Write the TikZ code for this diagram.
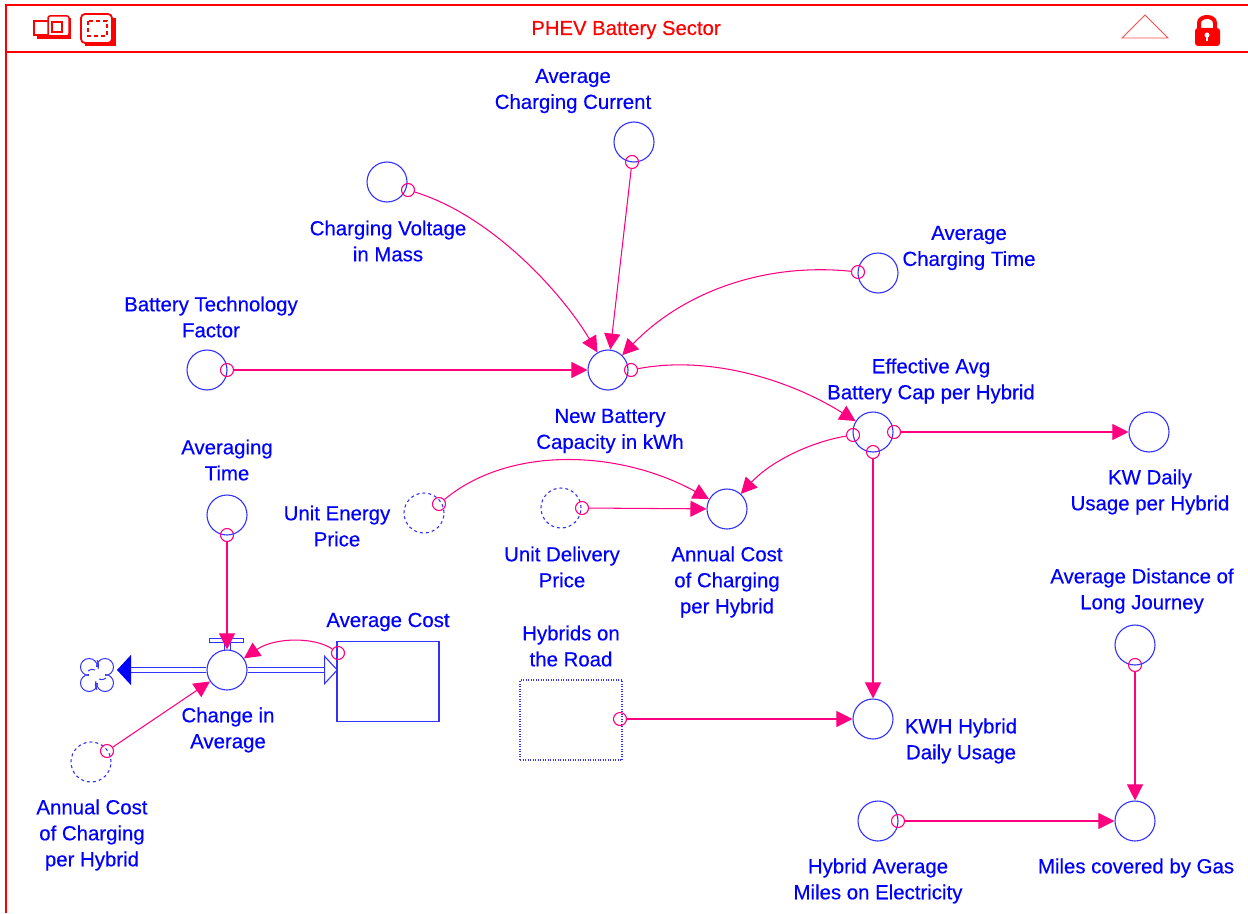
\documentclass[tikz,border=0pt]{standalone}
\usepackage{fontspec}
\setmainfont{Liberation Sans}[BoldFont=Liberation Sans,BoldFeatures={FakeBold=0.4}]
\usetikzlibrary{arrows.meta}
\newdimen\px \px=.75pt
\definecolor{vblue}{RGB}{50,50,255}
\definecolor{vtext}{RGB}{0,0,255}
\definecolor{vpink}{RGB}{255,0,128}
\definecolor{vred}{RGB}{255,0,0}
\tikzset{
  x=.75pt,y=-.75pt,
  aux/.style={circle,draw=vblue,line width=1.1\px,minimum size=40\px,inner sep=0pt},
  ghost/.style={aux,dash pattern=on 3\px off 3\px},
  stock/.style={rectangle,draw=vblue,line width=1.1\px,minimum width=102\px,minimum height=80\px,inner sep=0pt},
  gstock/.style={stock,dash pattern=on 1\px off 1.5\px},
  tap/.style={circle,draw=vpink,line width=1.1\px,minimum size=13\px,inner sep=0pt},
  lab/.style={text=vtext,align=center,inner sep=0pt,font=\fontsize{15.3pt}{19.5pt}\selectfont\bfseries},
  link/.style={draw=vpink,line width=1.05\px,-{Triangle[length=12pt,width=12pt]}},
  flow/.style={draw=vblue,line width=1.1\px,double=white,double distance=4.5\px},
  frameline/.style={draw=vred,line width=1.8\px},
}
\begin{document}
\begin{tikzpicture}
\useasboundingbox (0,0) rectangle (1248,913);
% frame
\draw[frameline] (1248,5) -- (6,5) -- (6,913);
\draw[frameline] (6,52) -- (1248,52);
\node[text=vred,inner sep=0pt,font=\fontsize{15.2pt}{18pt}\selectfont\bfseries] (title) at (626,30) {PHEV Battery Sector};
% toolbar icons
\draw[vred,line width=1.5\px] (34,21) rectangle (50,35);
\fill[vred] (37,36) rectangle (71,39);
\fill[vred] (68,18) rectangle (71,38);
\draw[vred,fill=white,line width=1.5\px,rounded corners=2\px] (48,16) rectangle (69,36);
\draw[vred,line width=2\px] (52,22) rectangle (62,32);
\fill[vred] (85,40) rectangle (116,46);
\fill[vred] (112,18) rectangle (116,46);
\draw[vred,fill=white,line width=1.8\px,rounded corners=4\px] (81,14) rectangle (112,43);
\draw[vred,line width=1.8\px,dash pattern=on 4\px off 3\px] (88,21) rectangle (107,36);
\draw[vred!70,line width=.9\px] (1122,38) -- (1145,15) -- (1168,38) -- cycle;
\draw[vred,line width=4\px] (1199,29) -- (1199,23) .. controls (1199,15) and (1215,15) .. (1215,23) -- (1215,29);
\fill[vred,rounded corners=3\px] (1195,28) rectangle (1220,46);
\fill[white] (1207,35) circle[radius=2.5];
\fill[white] (1206,35) rectangle (1208,41);
% auxiliaries
\node[aux] (avgCurrent) at (634,142) {};
\node[aux] (chargeVolt) at (387,182) {};
\node[aux] (avgTime) at (878,273) {};
\node[aux] (batTech) at (207,370) {};
\node[aux] (newBat) at (608,370) {};
\node[aux] (effAvg) at (873,432) {};
\node[aux] (kwDaily) at (1149,432) {};
\node[ghost] (unitEnergy) at (424,513) {};
\node[ghost] (unitDelivery) at (561,508) {};
\node[aux] (annualCost) at (727,509) {};
\node[aux] (avgingTime) at (227,515) {};
\node[aux] (avgDist) at (1135,645) {};
\node[aux] (change) at (227,670) {};
\node[aux] (kwhDaily) at (873,719) {};
\node[aux] (hybAvg) at (878,821) {};
\node[aux] (milesGas) at (1135,821) {};
\node[ghost] (annualGhost) at (91,762) {};
% stocks
\node[stock] (avgCost) at (388,681.5) {};
\node[gstock] (hybrids) at (571,720) {};
% cloud
\node[circle,minimum size=30\px,inner sep=0pt] (cloud) at (97,675) {};
\foreach \cx/\cy in {89/667,105/667,89/683,105/683}
  \draw[vblue,line width=1\px] (\cx,\cy) circle[radius=8.5];
\fill[white] (97,675) circle[radius=8];
\draw[vblue,line width=1\px] (88,671) .. controls (91,669) and (93,669) .. (95,670)
  (97,660) .. controls (99,664) and (99,667) .. (98,669)
  (106,678) .. controls (103,680) and (101,680) .. (99,679)
  (97,690) .. controls (95,686) and (95,683) .. (96,681);
% flows
\coordinate (avgCostIn) at (338,670);
\coordinate (cloudOut) at (117,670);
\draw[flow,-{Triangle[open,length=10.5pt,width=22.5pt]}] (change) -- (avgCostIn);
\draw[flow,-{Triangle[length=10.5pt,width=22.5pt,fill=vtext,color=vtext]}] (change) -- (cloudOut);
% valve handle
\draw[vblue,line width=1\px,fill=white] (209,638.5) rectangle (243,642);
\draw[vblue,line width=1\px] (224,642) -- (224,650) (230,642) -- (230,650);
% taps
\node[tap] (tCurrent) at (632,162) {};
\node[tap] (tVolt) at (408,190) {};
\node[tap] (tTime) at (858,272) {};
\node[tap] (tTech) at (227,370) {};
\node[tap] (tNew) at (631,370) {};
\node[tap] (tEffL) at (853,435) {};
\node[tap] (tEffR) at (894,432) {};
\node[tap] (tEffB) at (873,452) {};
\node[tap] (tEnergy) at (439,504) {};
\node[tap] (tDelivery) at (582,508) {};
\node[tap] (tAveraging) at (227,535) {};
\node[tap] (tDist) at (1135,665) {};
\node[tap] (tCost) at (338,653) {};
\node[tap] (tHybrids) at (620,719) {};
\node[tap] (tHybAvg) at (898,821) {};
\node[tap] (tGhost) at (107,751) {};
% links
\draw[link] (tCurrent) -- (newBat);
\draw[link] (tTech) -- (newBat);
\draw[link] (tEffR) -- (kwDaily);
\draw[link] (tEffB) -- (kwhDaily);
\draw[link] (tDelivery) -- (annualCost);
\draw[link] (tAveraging) -- (change);
\draw[link] (tDist) -- (milesGas);
\draw[link] (tHybrids) -- (kwhDaily);
\draw[link] (tHybAvg) -- (milesGas);
\draw[link] (tGhost) -- (change);
\draw[link] (tVolt) .. controls (490,215) and (560,290) .. (newBat);
\draw[link] (tTime) .. controls (760,262) and (680,295) .. (newBat);
\draw[link] (tNew) .. controls (710,355) and (790,380) .. (effAvg);
\draw[link] (tEffL) .. controls (810,442) and (770,462) .. (annualCost);
\draw[link] (tEnergy) .. controls (510,445) and (620,450) .. (annualCost);
\draw[link] (tCost) .. controls (315,637) and (275,637) .. (change);
% labels
\node[lab] (l1) at (573,91) {Average\\Charging Current};
\node[lab] (l2) at (388,241) {Charging Voltage\\in Mass};
\node[lab] (l3) at (969,248) {Average\\Charging Time};
\node[lab] (l4) at (211,317) {Battery Technology\\Factor};
\node[lab] (l5) at (610,431) {New Battery\\Capacity in kWh};
\node[lab] (l6) at (931,381) {Effective Avg\\Battery Cap per Hybrid};
\node[lab] (l7) at (1150,492) {KW Daily\\Usage per Hybrid};
\node[lab] (l8) at (337,526) {Unit Energy\\Price};
\node[lab] (l9) at (562,567) {Unit Delivery\\Price};
\node[lab] (l10) at (727,582) {Annual Cost\\of Charging\\per Hybrid};
\node[lab] (l11) at (227,460) {Averaging\\Time};
\node[lab] (l12) at (1142,591) {Average Distance of\\Long Journey};
\node[lab] (l13) at (388,622) {Average Cost};
\node[lab] (l14) at (571,646) {Hybrids on\\the Road};
\node[lab] (l15) at (228,730) {Change in\\Average};
\node[lab] (l16) at (961,741) {KWH Hybrid\\Daily Usage};
\node[lab] (l17) at (878,881) {Hybrid Average\\Miles on Electricity};
\node[lab] (l18) at (1136,868) {Miles covered by Gas};
\node[lab] (l19) at (92,835) {Annual Cost\\of Charging\\per Hybrid};
\end{tikzpicture}
\end{document}
